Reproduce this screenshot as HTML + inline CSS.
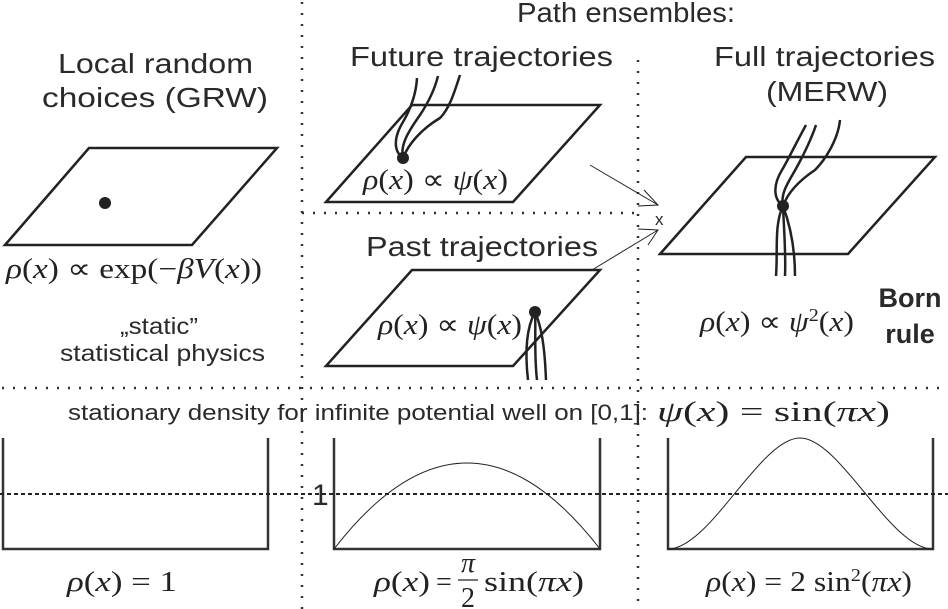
<!DOCTYPE html>
<html><head><meta charset="utf-8"><style>
html,body{margin:0;padding:0;background:#fff;}
svg{display:block;}
.s{font-family:"Liberation Sans",sans-serif;fill:#2a2a2a;}
.m{font-family:"Liberation Serif",serif;fill:#222;}
</style></head><body>
<svg width="948" height="609" viewBox="0 0 948 609" xmlns="http://www.w3.org/2000/svg">
<g stroke="#333" stroke-width="2.5" stroke-dasharray="2 9" fill="none">
<line x1="302" y1="2" x2="302" y2="609"/>
<line x1="638" y1="60" x2="638" y2="609"/>
<line x1="302" y1="213" x2="638" y2="213"/>
<line x1="2" y1="388" x2="948" y2="388"/>
</g>
<g stroke="#222" stroke-width="2.5" fill="none" stroke-linejoin="miter">
<polygon points="5,245 89,148 277,148 192,245"/>
<polygon points="326,202 412,105 600,105 513,202"/>
<polygon points="326,366 412,270 600,270 513,366"/>
<polygon points="660,254 746,157 935,157 848,254"/>
</g>
<g fill="#222">
<circle cx="105" cy="203" r="6"/>
<circle cx="403" cy="158" r="6"/>
<circle cx="535" cy="312" r="6"/>
<circle cx="783" cy="206" r="6"/>
</g>
<g stroke="#222" stroke-width="2.5" fill="none">
<path d="M403,158 C392,150 395,135 403,122 C410,110 416,95 417,78"/>
<path d="M403,158 C400,145 408,132 420,115 C430,100 435,88 438,76"/>
<path d="M403,158 C408,145 420,130 440,118 C450,108 455,90 460,75"/>
<path d="M535,312 C528,325 524,345 528,380"/>
<path d="M535,312 C536,330 534,355 537,380"/>
<path d="M535,312 C543,330 545,355 546,380"/>
<path d="M783,206 C772,198 774,183 782,170 C788,160 795,145 806,125"/>
<path d="M783,206 C780,192 790,180 798,165 C806,150 812,137 816,125"/>
<path d="M783,206 C788,192 800,180 815,170 C825,160 838,140 840,120"/>
<path d="M783,206 C774,225 778,250 776,276"/>
<path d="M783,206 C784,230 786,255 785,276"/>
<path d="M783,206 C792,230 795,255 795,276"/>
</g>
<g stroke="#222" stroke-width="1" fill="none">
<line x1="590" y1="165" x2="658" y2="205"/>
<polyline points="644,190 658,205 638,206"/>
<line x1="592" y1="270" x2="658" y2="230"/>
<polyline points="638,229 658,230 648,245"/>
</g>
<text x="655" y="225" class="s" font-size="17">x</text>
<g class="s" font-size="28">
<text x="517" y="22" textLength="218" lengthAdjust="spacingAndGlyphs">Path ensembles:</text>
<text x="58" y="73" textLength="195" lengthAdjust="spacingAndGlyphs">Local random</text>
<text x="42" y="107" textLength="226" lengthAdjust="spacingAndGlyphs">choices (GRW)</text>
<text x="350" y="66" textLength="263" lengthAdjust="spacingAndGlyphs">Future trajectories</text>
<text x="714" y="66" textLength="221" lengthAdjust="spacingAndGlyphs">Full trajectories</text>
<text x="766" y="101" textLength="122" lengthAdjust="spacingAndGlyphs">(MERW)</text>
<text x="366" y="256" textLength="232" lengthAdjust="spacingAndGlyphs">Past trajectories</text>
</g>
<g class="s" font-size="23">
<text x="120" y="334" textLength="78" lengthAdjust="spacingAndGlyphs">„static”</text>
<text x="60" y="361" textLength="205" lengthAdjust="spacingAndGlyphs">statistical physics</text>
</g>
<g class="s" font-size="27" font-weight="bold" text-anchor="middle">
<text x="910" y="307">Born</text>
<text x="910" y="343">rule</text>
</g>
<g class="m" font-size="28">
<text x="6" y="278" textLength="256" lengthAdjust="spacingAndGlyphs"><tspan font-style="italic">ρ</tspan>(<tspan font-style="italic">x</tspan>) ∝ exp(−<tspan font-style="italic">βV</tspan>(<tspan font-style="italic">x</tspan>))</text>
<text x="363" y="189" textLength="145" lengthAdjust="spacingAndGlyphs"><tspan font-style="italic">ρ</tspan>(<tspan font-style="italic">x</tspan>) ∝ <tspan font-style="italic">ψ</tspan>(<tspan font-style="italic">x</tspan>)</text>
<text x="378" y="334" textLength="144" lengthAdjust="spacingAndGlyphs"><tspan font-style="italic">ρ</tspan>(<tspan font-style="italic">x</tspan>) ∝ <tspan font-style="italic">ψ</tspan>(<tspan font-style="italic">x</tspan>)</text>
<text x="700" y="331" textLength="154" lengthAdjust="spacingAndGlyphs"><tspan font-style="italic">ρ</tspan>(<tspan font-style="italic">x</tspan>) ∝ <tspan font-style="italic">ψ</tspan><tspan font-size="18" dy="-10">2</tspan><tspan dy="10">(</tspan><tspan font-style="italic">x</tspan>)</text>
<text x="657" y="421" textLength="233" lengthAdjust="spacingAndGlyphs"><tspan font-style="italic">ψ</tspan>(<tspan font-style="italic">x</tspan>) = sin(<tspan font-style="italic">πx</tspan>)</text>
<text x="67" y="591" textLength="110" lengthAdjust="spacingAndGlyphs"><tspan font-style="italic">ρ</tspan>(<tspan font-style="italic">x</tspan>) = 1</text>
<text x="374" y="591" textLength="56" lengthAdjust="spacingAndGlyphs"><tspan font-style="italic">ρ</tspan>(<tspan font-style="italic">x</tspan>)</text>
<text x="436" y="591">=</text>
<text x="461" y="572" font-style="italic">π</text>
<line x1="458" y1="580" x2="478" y2="580" stroke="#222" stroke-width="1.2"/>
<text x="461" y="607">2</text>
<text x="484" y="591" textLength="100" lengthAdjust="spacingAndGlyphs">sin(<tspan font-style="italic">πx</tspan>)</text>
<text x="706" y="591" textLength="206" lengthAdjust="spacingAndGlyphs"><tspan font-style="italic">ρ</tspan>(<tspan font-style="italic">x</tspan>) = 2 sin<tspan font-size="18" dy="-10">2</tspan><tspan dy="10">(</tspan><tspan font-style="italic">πx</tspan>)</text>
</g>
<text x="68" y="420" class="s" font-size="22" textLength="580" lengthAdjust="spacingAndGlyphs">stationary density for infinite potential well on [0,1]:</text>
<g stroke="#333" stroke-width="2.5" fill="none">
<polyline points="3,438 3,549 268,549 268,438"/>
<polyline points="334,438 334,549 600,549 600,438"/>
<polyline points="668,438 668,549 933,549 933,438"/>
</g>
<line x1="0" y1="494" x2="948" y2="494" stroke="#222" stroke-width="2" stroke-dasharray="4 3"/>
<text x="312" y="505" class="s" font-size="30">1</text>
<path fill="none" stroke="#222" stroke-width="1" d="M334,549 Q467,377 600,549"/>
<path fill="none" stroke="#222" stroke-width="1" d="M668,549 C710,549 760,438 800,438 C840,438 890,549 933,549"/>
</svg>
</body></html>
